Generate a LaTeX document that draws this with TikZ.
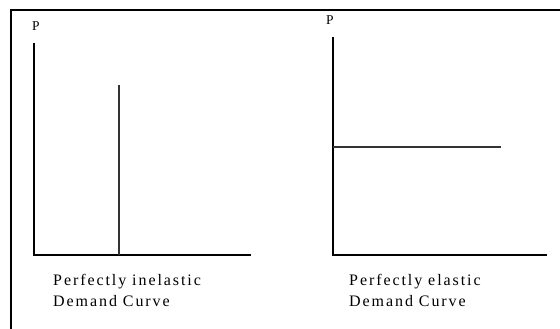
\documentclass[tikz,border=0pt]{standalone}
\usepackage{fontspec}
\setmainfont{Liberation Serif}[LetterSpace=12]
\usepackage{tikz}
\usetikzlibrary{positioning}

\begin{document}
\begin{tikzpicture}[
        x=1pt, y=-1pt,
        axis/.style={line width=1.1pt, black},
        curve/.style={line width=1.1pt, black!80},
        caption/.style={font=\fontsize{16}{21}\selectfont, align=left, anchor=north west, inner sep=0pt},
        plabel/.style={font=\fontsize{13.5}{13.5}\selectfont, inner sep=0pt}
    ]
        \useasboundingbox (0,0) rectangle (560,329);
        % Frame
        \draw[line width=2pt] (11,330) -- (11,10) -- (561,10);

        % Left graph: perfectly inelastic
        \coordinate (o1) at (34,255);
        \coordinate (ytop1) at (34,43);
        \coordinate (xend1) at (251,255);
        \coordinate (dbase1) at (119,255);
        \coordinate (dtop1) at (119,85);
        \node[plabel] (p1) at (36,26) {P};
        \node[caption] (cap1) at (53,274) {Perfectly inelastic\\Demand Curve};

        % Right graph: perfectly elastic
        \coordinate (o2) at (333,255);
        \coordinate (ytop2) at (333,37);
        \coordinate (xend2) at (547,255);
        \coordinate (dleft2) at (333,147);
        \coordinate (dright2) at (501,147);
        \node[plabel] (p2) at (330,20) {P};
        \node[caption] (cap2) at (349,274) {Perfectly elastic\\Demand Curve};

        % Axes
        \draw[axis] (ytop1) -- (o1) -- (xend1);
        \draw[axis] (ytop2) -- (o2) -- (xend2);

        % Demand curves
        \draw[curve] (dbase1) -- (dtop1);
        \draw[curve] (dleft2) -- (dright2);
    \end{tikzpicture}
\end{document}
